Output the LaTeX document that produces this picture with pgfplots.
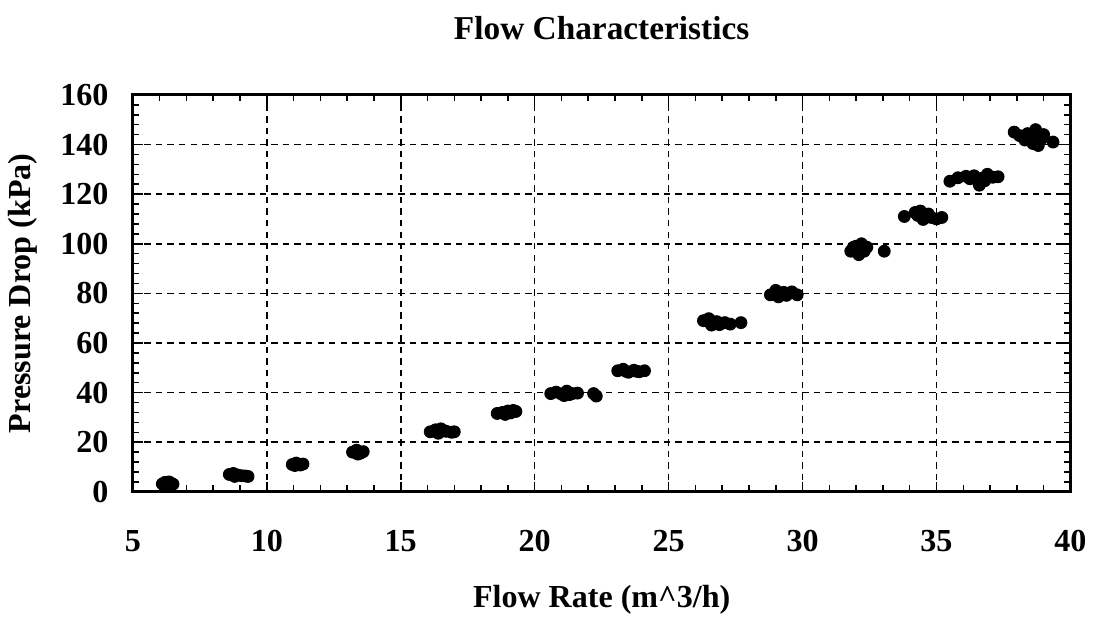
\documentclass[border={0pt 0pt 0pt 3pt}]{standalone}
\usepackage{fontspec}
\setmainfont{Liberation Serif}
\usepackage{pgfplots}
\pgfplotsset{compat=1.18}

\begin{document}
\begin{tikzpicture}
\begin{axis}[
  scale only axis, width=12.85cm, height=5.44cm,
  xmin=5, xmax=40, ymin=0, ymax=160,
  xtick={5,10,...,40}, ytick={0,20,...,160},
  minor x tick num=4, minor y tick num=4,
  tick align=inside, major tick length=4pt, minor tick length=2.5pt,
  axis line style={line width=1.2pt}, tick style={black, line width=0.6pt},
  grid=major, major grid style={black, dashed, line width=0.6pt, dash pattern=on 2.5pt off 2pt},
  /pgf/number format/assume math mode=true,
  tick label style={font=\bfseries\fontsize{12.5}{14}\selectfont},
  xticklabel style={yshift=-11.5pt},
  yticklabel style={xshift=-6pt},
  label style={font=\bfseries\fontsize{12.5}{14}\selectfont},
  xlabel={Flow Rate (m\textasciicircum 3/h)},
  ylabel={Pressure Drop (kPa)},
  xlabel style={yshift=-6pt},
  ylabel style={yshift=2pt},
  title={Flow Characteristics},
  title style={font=\bfseries\fontsize{13}{15}\selectfont, yshift=12pt},
]
\addplot[only marks, mark=*, mark size=2.3pt, black] coordinates {
(6.1,3.2)(6.2,3.8)(6.3,3.0)(6.4,3.6)(6.5,3.1)(6.25,2.8)(6.35,4.0)
(8.6,7.0)(8.75,7.4)(8.9,6.8)(9.05,6.5)(9.2,6.4)(9.3,6.2)(8.8,6.2)
(10.95,11.0)(11.1,11.6)(11.25,10.8)(11.35,11.2)(11.05,10.6)
(13.2,16.0)(13.35,16.8)(13.5,15.6)(13.6,16.2)(13.4,15.2)
(16.1,24.2)(16.3,25.0)(16.5,25.4)(16.7,24.4)(16.9,24.0)(17.0,24.2)(16.4,23.6)(16.6,24.6)
(18.6,31.6)(18.8,32.0)(19.0,32.6)(19.2,32.8)(19.3,32.4)(18.9,31.2)(19.1,31.8)
(20.6,39.6)(20.8,40.2)(21.0,39.4)(21.2,40.6)(21.4,39.6)(21.6,39.8)(21.1,38.8)(21.3,39.2)(22.2,39.6)(22.3,38.6)
(23.1,48.8)(23.3,49.4)(23.5,48.2)(23.7,49.0)(23.9,48.4)(24.1,48.8)(23.4,48.6)(23.8,48.6)
(26.3,69.0)(26.5,69.8)(26.7,68.4)(26.9,67.4)(27.1,68.2)(27.3,67.6)(26.6,67.2)(26.8,68.6)(27.7,68.2)
(28.8,79.4)(29.0,81.2)(29.2,80.0)(29.4,79.2)(29.6,80.6)(29.8,79.4)(29.1,78.6)(29.3,80.4)(28.95,80.0)
(31.8,97.0)(32.0,99.0)(32.2,100.0)(32.3,97.0)(32.4,98.6)(32.1,95.6)(31.9,98.6)(32.0,96.8)(32.25,98.0)(33.05,97.0)
(33.8,111.0)(34.2,112.6)(34.4,113.2)(34.6,111.2)(34.8,110.6)(35.0,110.0)(35.2,110.6)(34.5,109.8)(34.3,111.4)(34.7,112.0)
(35.5,125.2)(35.8,126.6)(36.1,127.2)(36.4,127.4)(36.7,126.4)(36.6,123.6)(36.9,128.0)(37.1,126.8)(37.3,127.0)(36.25,126.2)(36.8,125.4)
(37.9,145.0)(38.1,143.6)(38.3,141.8)(38.5,143.4)(38.7,146.0)(38.8,139.6)(38.9,142.0)(39.0,144.0)(38.6,140.4)(38.4,144.4)(38.75,142.6)(39.35,141.0)
};
\end{axis}
\end{tikzpicture}
\end{document}
